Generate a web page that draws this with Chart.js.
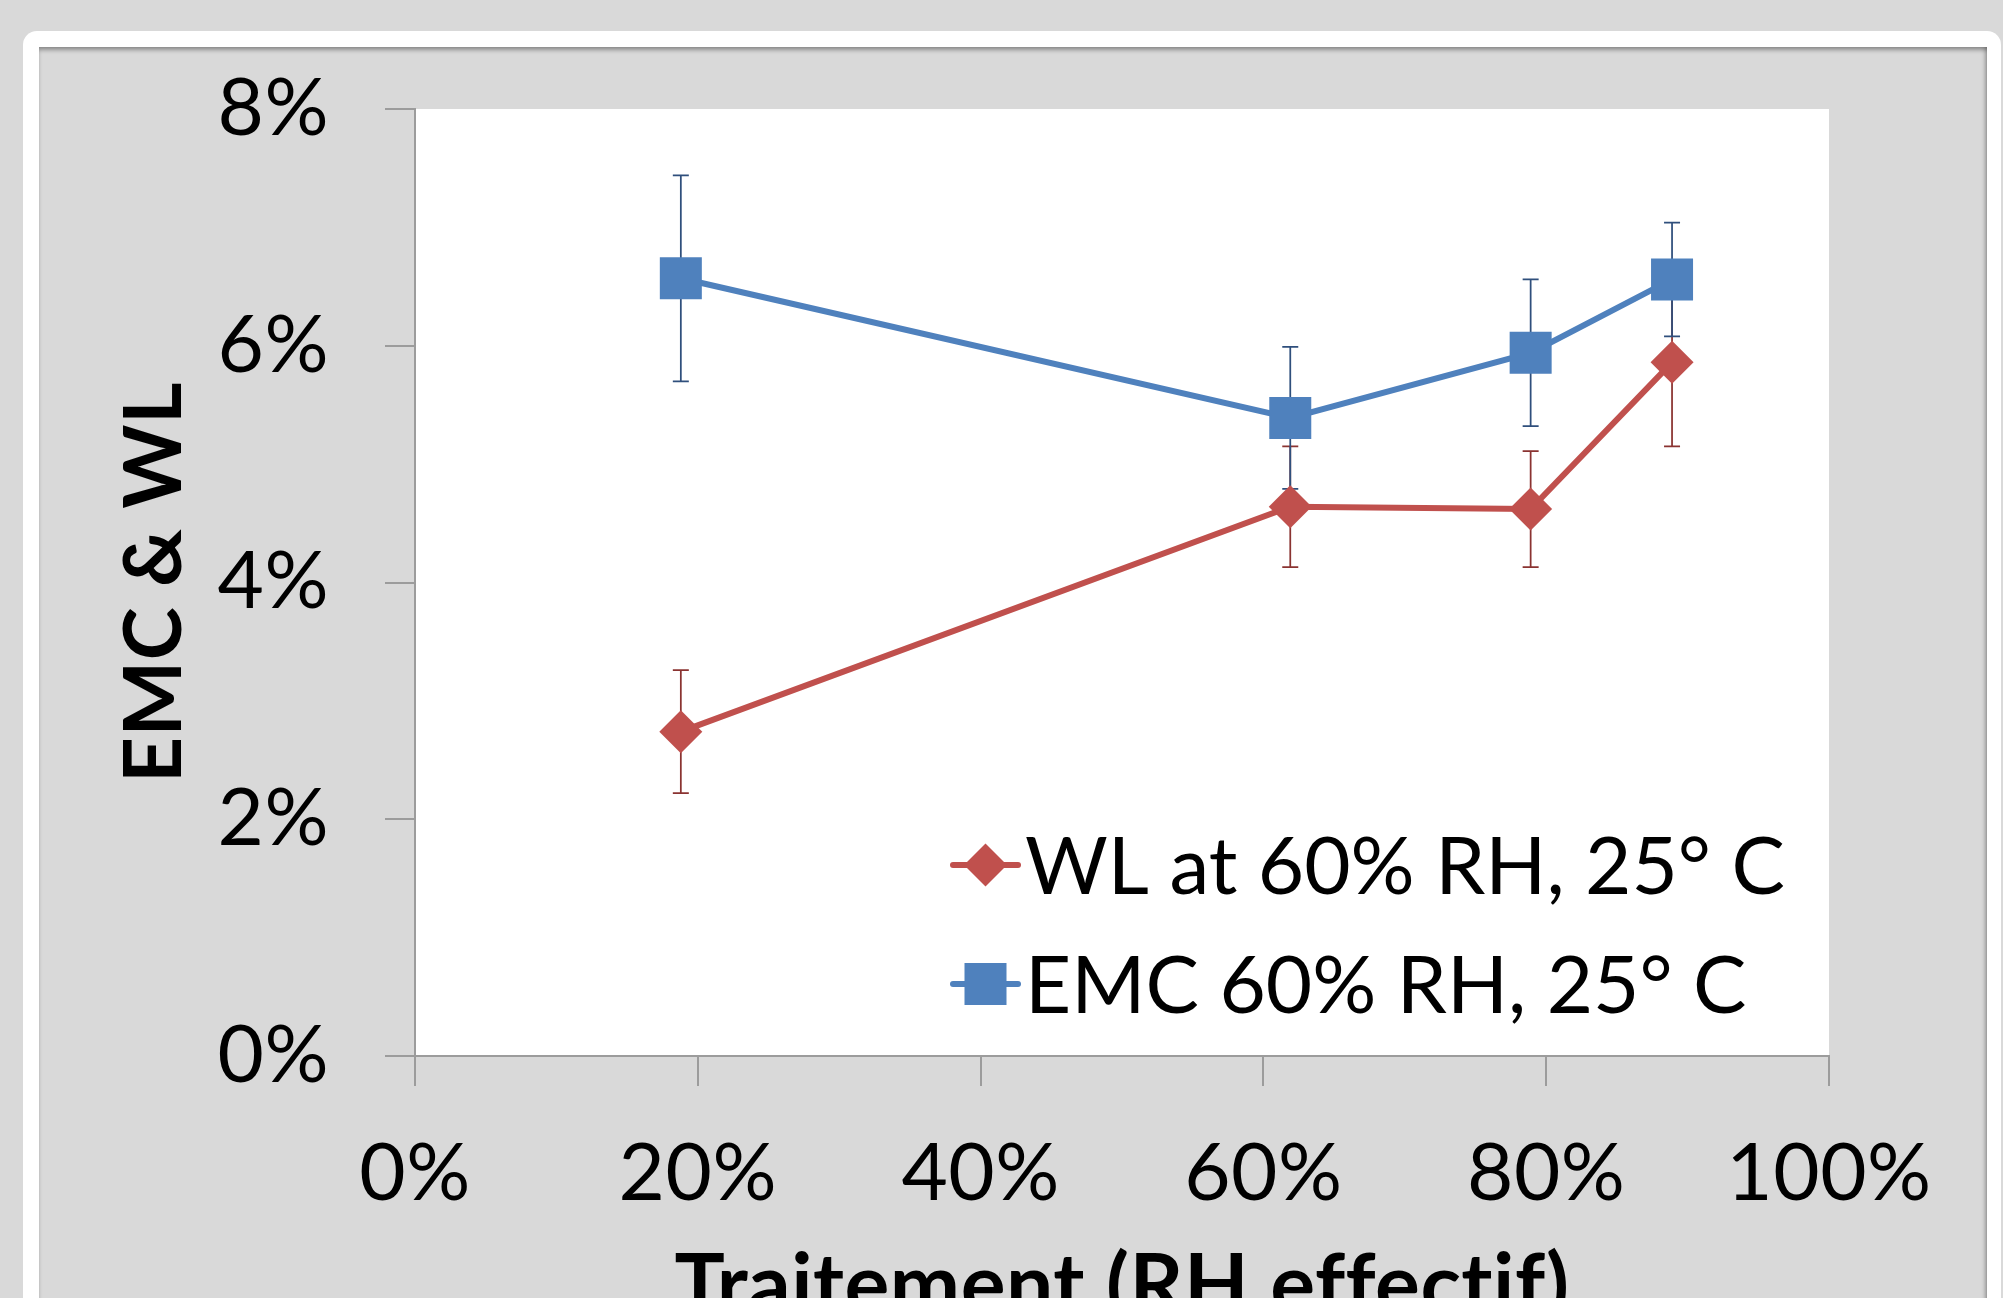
<!DOCTYPE html>
<html>
<head>
<meta charset="utf-8">
<title>EMC &amp; WL</title>
<script src="https://cdn.jsdelivr.net/npm/chart.js@4.4.1/dist/chart.umd.min.js"></script>
<style>
  html, body { margin: 0; padding: 0; }
  body { width: 2003px; height: 1298px; overflow: hidden; background: #d9d9d9; position: relative; }
  #frame { position: absolute; left: 23px; top: 31px; width: 1978px; height: 1400px; background: #fff; border-radius: 14px 14px 0 0; }
  #panel { position: absolute; left: 16px; top: 16px; width: 1948px; height: 1380px; background: #d9d9d9; overflow: hidden;
           box-shadow: inset 0 4px 4px -1px rgba(0,0,0,0.35), inset -4px 0 4px -2px rgba(0,0,0,0.25); }
  #chart { position: absolute; left: 0; top: 0; }
</style>
</head>
<body>
<div id="frame"><div id="panel"><canvas id="chart" width="1948" height="1320"></canvas></div></div>
<script>
// RH effectif (%) of each treatment
const rhEffectif = [18.8, 61.9, 78.9, 88.9];

// weight loss and equilibrium moisture content (%), with error bars
const wlValues = [2.74, 4.64, 4.62, 5.86];
const wlErrors = [0.52, 0.51, 0.49, 0.71];
const emcValues = [6.57, 5.39, 5.94, 6.56];
const emcErrors = [0.87, 0.60, 0.62, 0.48];

const seriesNames = ['WL at 60% RH, 25° C', 'EMC 60% RH, 25° C'];
const xTicks = [0, 20, 40, 60, 80, 100];
const yTicks = [0, 2, 4, 6, 8];

const axisGrey = '#9c9c9c';

function points(values) {
    return rhEffectif.map((x, i) => ({ x: x, y: values[i] }));
}

// white plot area on the grey panel
const plotBackground = {
    id: 'plotBackground',
    beforeDraw(chart) {
        const { ctx, chartArea: a } = chart;
        // no ligatures ("ti", "ff") in the labels
        ctx.letterSpacing = '0.5px';
        ctx.save();
        ctx.fillStyle = '#ffffff';
        ctx.fillRect(a.left, a.top, a.right - a.left, a.bottom - a.top);
        ctx.restore();
    }
};

// vertical error bars with small caps, under the markers
const errorBars = {
    id: 'errorBars',
    beforeDatasetsDraw(chart) {
        const ctx = chart.ctx;
        const xs = chart.scales.x, ys = chart.scales.y;
        chart.data.datasets.forEach((ds) => {
            ctx.save();
            ctx.strokeStyle = ds.errorColor;
            ctx.lineWidth = 1.75;
            ds.data.forEach((p, i) => {
                const x = xs.getPixelForValue(p.x);
                const top = ys.getPixelForValue(p.y + ds.errors[i]);
                const bot = ys.getPixelForValue(p.y - ds.errors[i]);
                ctx.beginPath();
                ctx.moveTo(x, top); ctx.lineTo(x, bot);
                ctx.moveTo(x - 8, top); ctx.lineTo(x + 8, top);
                ctx.moveTo(x - 8, bot); ctx.lineTo(x + 8, bot);
                ctx.stroke();
            });
            ctx.restore();
        });
    }
};

function marker(ctx, style, r, x, y) {
    ctx.beginPath();
    if (style === 'rectRot') {
        ctx.moveTo(x - r, y); ctx.lineTo(x, y - r);
        ctx.lineTo(x + r, y); ctx.lineTo(x, y + r);
        ctx.closePath();
    } else {
        const h = r * Math.SQRT1_2;
        ctx.rect(x - h, y - h, 2 * h, 2 * h);
    }
    ctx.fill();
}

// legend inside the plot, lower right
const seriesLegend = {
    id: 'seriesLegend',
    afterDraw(chart) {
        const ctx = chart.ctx;
        const baselines = [847, 966];
        chart.data.datasets.forEach((ds, i) => {
            const cy = baselines[i] - 29;
            ctx.save();
            ctx.letterSpacing = '0px';
            ctx.strokeStyle = ds.borderColor;
            ctx.fillStyle = ds.backgroundColor;
            ctx.lineWidth = 6;
            ctx.lineCap = 'round';
            ctx.beginPath();
            ctx.moveTo(914, cy); ctx.lineTo(979, cy);
            ctx.stroke();
            marker(ctx, ds.pointStyle, ds.pointRadius, 946.5, cy);
            ctx.fillStyle = '#000';
            ctx.font = '80px Lato';
            ctx.textBaseline = 'alphabetic';
            ctx.fillText(ds.label, 986, baselines[i]);
            ctx.restore();
        });
    }
};

new Chart(document.getElementById('chart'), {
    type: 'line',
    data: {
        datasets: [
            {
                label: seriesNames[0],
                data: points(wlValues),
                errors: wlErrors,
                errorColor: '#8a3331',
                borderColor: '#c0504d',
                backgroundColor: '#c0504d',
                borderWidth: 6,
                pointStyle: 'rectRot',
                pointRadius: 21.5,
                pointBorderWidth: 0,
                tension: 0
            },
            {
                label: seriesNames[1],
                data: points(emcValues),
                errors: emcErrors,
                errorColor: '#2f4f7c',
                borderColor: '#4f81bd',
                backgroundColor: '#4f81bd',
                borderWidth: 6,
                pointStyle: 'rect',
                pointRadius: 29.7,
                pointBorderWidth: 0,
                tension: 0
            }
        ]
    },
    options: {
        responsive: false,
        animation: false,
        devicePixelRatio: 1,
        layout: { padding: { top: 62, right: 158, left: 0, bottom: 0 } },
        plugins: {
            legend: { display: false },
            tooltip: { enabled: false }
        },
        scales: {
            x: {
                type: 'linear',
                min: xTicks[0],
                max: xTicks[xTicks.length - 1],
                afterBuildTicks: (s) => { s.ticks = xTicks.map(v => ({ value: v })); },
                afterFit: (s) => { s.height = 311; },
                grid: { drawOnChartArea: false, tickLength: 30, color: axisGrey, lineWidth: 2 },
                border: { color: axisGrey, width: 2 },
                ticks: {
                    autoSkip: false, maxRotation: 0, padding: 40,
                    font: { family: 'Lato', size: 80 }, color: '#000',
                    callback: v => v + '%'
                },
                title: {
                    display: true, text: 'Traitement (RH effectif)', color: '#000',
                    font: { family: 'Lato', size: 84, weight: 'bold', lineHeight: 1 },
                    padding: { top: 0, bottom: 38 }
                }
            },
            y: {
                min: yTicks[0],
                max: yTicks[yTicks.length - 1],
                afterBuildTicks: (s) => { s.ticks = yTicks.map(v => ({ value: v })); },
                afterFit: (s) => { s.width = 376; },
                grid: { drawOnChartArea: false, tickLength: 30, color: axisGrey, lineWidth: 2 },
                border: { color: axisGrey, width: 2 },
                ticks: {
                    padding: 56,
                    // small line height keeps the top label from pushing the plot down
                    font: { family: 'Lato', size: 80, lineHeight: 0.1 }, color: '#000',
                    callback: v => v + '%'
                },
                title: {
                    display: true, text: 'EMC & WL', color: '#000',
                    font: { family: 'Lato', size: 80, weight: 'bold', lineHeight: 1 },
                    padding: { top: 76, bottom: 0 }
                }
            }
        }
    },
    plugins: [plotBackground, errorBars, seriesLegend]
});
</script>
</body>
</html>
